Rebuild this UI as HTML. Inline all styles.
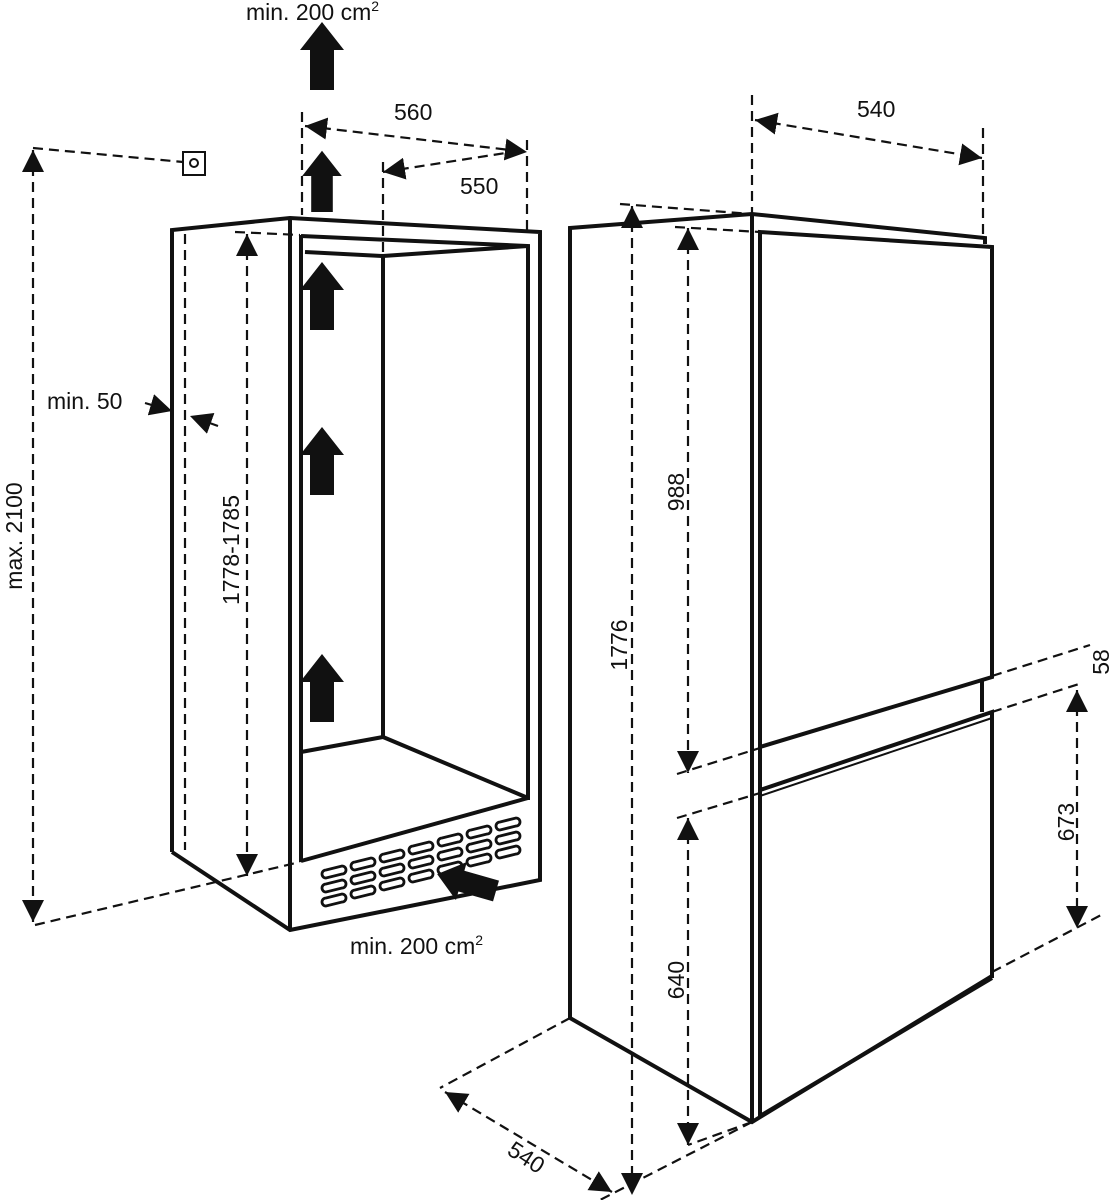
<!DOCTYPE html>
<html><head><meta charset="utf-8"><style>
html,body{margin:0;padding:0;background:#fff}
svg{display:block}
text{font-family:"Liberation Sans",sans-serif;font-size:23px;fill:#111}
</style></head><body>
<svg width="1109" height="1200" viewBox="0 0 1109 1200" xmlns="http://www.w3.org/2000/svg">
<defs>
<marker id="b" viewBox="0 0 10 10" refX="10" refY="5" markerWidth="22" markerHeight="22" orient="auto-start-reverse" markerUnits="userSpaceOnUse">
<path d="M0,0 L10,5 L0,10 z" fill="#111"/></marker>
<g id="up"><path d="M-12,0 L-12,-40 L-22,-40 L0,-68 L22,-40 L12,-40 L12,0 z" fill="#111"/></g>
</defs>

<g fill="none" stroke="#111" stroke-width="4" stroke-linejoin="miter">
<path d="M172,852 L172,230 L290,218 L540,232 L540,880 L290,930 L172,852"/>
<line x1="290" y1="218" x2="290" y2="930"/>
<line x1="301" y1="235" x2="301" y2="862"/>
<path d="M301,236 L528,246 L528,800"/>
<path d="M305,252 L383,256 L528,246"/>
<line x1="383" y1="256" x2="383" y2="738"/>
<path d="M301,752 L383,737 L528,798"/>
<line x1="301" y1="861" x2="528" y2="798"/>
</g>
<g fill="none" stroke="#111" stroke-width="2.8">
<g id="vcol">
<path d="M326,870 l16,-4 a4,4 0 0 1 0,8 l-16,4 a4,4 0 0 1 0,-8 z"/>
<path d="M326,884 l16,-4 a4,4 0 0 1 0,8 l-16,4 a4,4 0 0 1 0,-8 z"/>
<path d="M326,898 l16,-4 a4,4 0 0 1 0,8 l-16,4 a4,4 0 0 1 0,-8 z"/>
</g>
<use href="#vcol" transform="translate(29,-8)"/>
<use href="#vcol" transform="translate(58,-16)"/>
<use href="#vcol" transform="translate(87,-24)"/>
<use href="#vcol" transform="translate(116,-32)"/>
<use href="#vcol" transform="translate(145,-40)"/>
<use href="#vcol" transform="translate(174,-48)"/>
</g>
<use href="#up" transform="translate(322,90)"/>
<use href="#up" transform="translate(322,212) scale(0.9)"/>
<use href="#up" transform="translate(322,330)"/>
<use href="#up" transform="translate(322,495)"/>
<use href="#up" transform="translate(322,722)"/>
<use href="#up" transform="translate(496,891) rotate(-74) scale(0.9)"/>
<rect x="183" y="152" width="22" height="23" fill="#fff" stroke="#111" stroke-width="2"/>
<circle cx="194" cy="163" r="4" fill="none" stroke="#111" stroke-width="2"/>

<g fill="none" stroke="#111" stroke-width="2.2" stroke-dasharray="10,6">
<line x1="33" y1="148" x2="183" y2="162"/>
<line x1="33" y1="150" x2="33" y2="922" marker-start="url(#b)" marker-end="url(#b)"/>
<line x1="35" y1="925" x2="300" y2="862"/>
<line x1="185" y1="234" x2="185" y2="850"/>
<line x1="235" y1="232" x2="300" y2="235"/>
<line x1="247" y1="234" x2="247" y2="876" marker-start="url(#b)" marker-end="url(#b)"/>
<line x1="302" y1="112" x2="302" y2="215"/>
<line x1="527" y1="140" x2="527" y2="230"/>
<line x1="383" y1="162" x2="383" y2="255"/>
<line x1="305" y1="126" x2="527" y2="152" marker-start="url(#b)" marker-end="url(#b)"/>
<line x1="383" y1="172" x2="525" y2="150" marker-start="url(#b)"/>
<line x1="145" y1="403" x2="172" y2="411" marker-end="url(#b)"/>
<line x1="218" y1="426" x2="190" y2="416" marker-end="url(#b)"/>
</g>

<g fill="none" stroke="#111" stroke-width="4">
<path d="M570,1018 L570,228 L752,214 L985,238 L985,244"/>
<line x1="752" y1="214" x2="752" y2="1122"/>
<path d="M570,1018 L752,1122 L992,976"/>
<path d="M760,1116 L760,232 L992,247 L992,677 L760,747"/>
<line x1="982" y1="680" x2="982" y2="712"/>
<path d="M760,790 L992,712 L992,978"/>
<line x1="760" y1="796" x2="992" y2="718" stroke-width="2"/>
<path d="M760,1116 L992,978"/>
</g>
<g fill="none" stroke="#111" stroke-width="2.2" stroke-dasharray="10,6">
<line x1="620" y1="204" x2="752" y2="214"/>
<line x1="632" y1="206" x2="632" y2="1195" marker-start="url(#b)" marker-end="url(#b)"/>
<line x1="675" y1="227" x2="760" y2="232"/>
<line x1="688" y1="228" x2="688" y2="773" marker-start="url(#b)" marker-end="url(#b)"/>
<line x1="677" y1="774" x2="760" y2="748"/>
<line x1="677" y1="818" x2="760" y2="793"/>
<line x1="688" y1="818" x2="688" y2="1145" marker-start="url(#b)" marker-end="url(#b)"/>
<line x1="992" y1="676" x2="1090" y2="645"/>
<line x1="992" y1="712" x2="1082" y2="683"/>
<line x1="1077" y1="690" x2="1077" y2="928" marker-start="url(#b)" marker-end="url(#b)"/>
<line x1="992" y1="972" x2="1105" y2="913"/>
<line x1="752" y1="95" x2="752" y2="214"/>
<line x1="983" y1="128" x2="983" y2="240"/>
<line x1="755" y1="120" x2="982" y2="158" marker-start="url(#b)" marker-end="url(#b)"/>
<line x1="570" y1="1018" x2="440" y2="1088"/>
<line x1="752" y1="1122" x2="600" y2="1200"/>
<line x1="752" y1="1122" x2="688" y2="1145"/>
<line x1="445" y1="1092" x2="612" y2="1192" marker-start="url(#b)" marker-end="url(#b)"/>
</g>

<text x="246" y="20">min. 200 cm<tspan font-size="14" dy="-9">2</tspan></text>
<text x="394" y="120">560</text>
<text x="460" y="194">550</text>
<text x="47" y="409">min. 50</text>
<text x="350" y="954">min. 200 cm<tspan font-size="14" dy="-9">2</tspan></text>
<text transform="translate(22,536) rotate(-90)" text-anchor="middle">max. 2100</text>
<text transform="translate(239,550) rotate(-90)" text-anchor="middle">1778-1785</text>
<text x="857" y="117">540</text>
<text transform="translate(627,645) rotate(-90)" text-anchor="middle">1776</text>
<text transform="translate(684,492) rotate(-90)" text-anchor="middle">988</text>
<text transform="translate(684,980) rotate(-90)" text-anchor="middle">640</text>
<text transform="translate(1074,822) rotate(-90)" text-anchor="middle">673</text>
<text transform="translate(1109,662) rotate(-90)" text-anchor="middle">58</text>
<text transform="translate(522,1164) rotate(33)" text-anchor="middle">540</text>
</svg>
</body></html>
